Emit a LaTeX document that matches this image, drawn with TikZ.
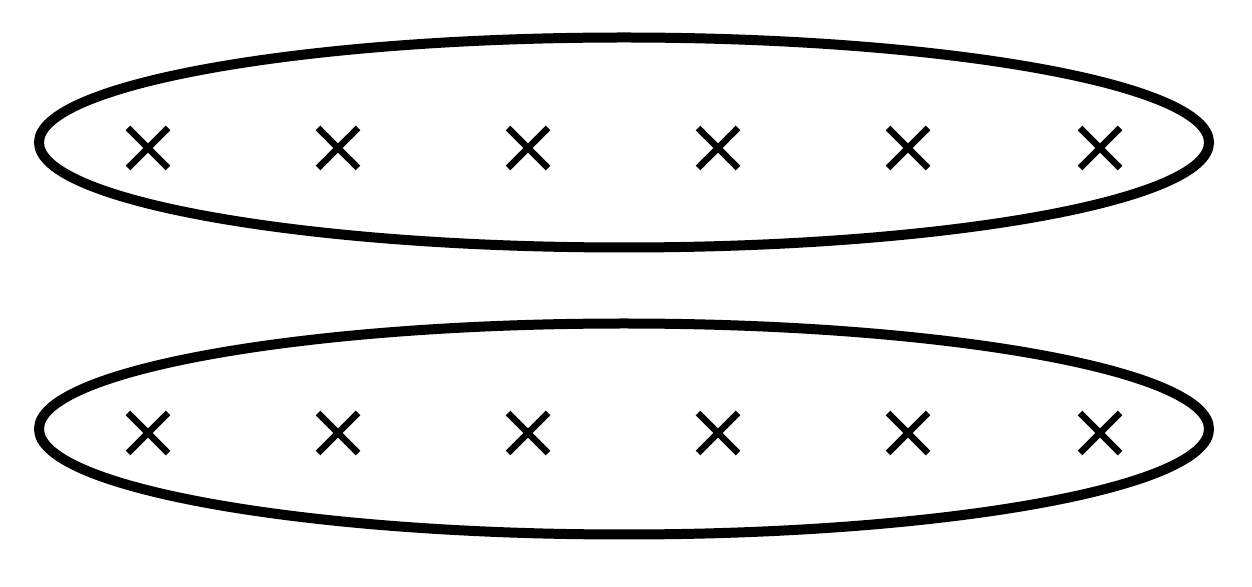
\documentclass[tikz,border=0pt]{standalone}
\usetikzlibrary{shapes.misc}
\begin{document}
\begin{tikzpicture}[x=1pt,y=1pt,
  ring/.style={draw=black,line width=10pt},
  xmark/.style={cross out,draw=black,line width=6.5pt,inner sep=0pt,outer sep=0pt,minimum size=40pt}]
\useasboundingbox (0,0) rectangle (1252,586);
\draw[ring] (624,443.5) ellipse [x radius=585, y radius=105] coordinate (e1);
\draw[ring] (624,157) ellipse [x radius=585, y radius=105.5] coordinate (e2);
\foreach \i/\x in {1/148,2/338,3/528,4/718,5/908,6/1100}{
  \node[xmark] (t\i) at (\x,438) {};
  \node[xmark] (b\i) at (\x,153) {};
}
\end{tikzpicture}
\end{document}
